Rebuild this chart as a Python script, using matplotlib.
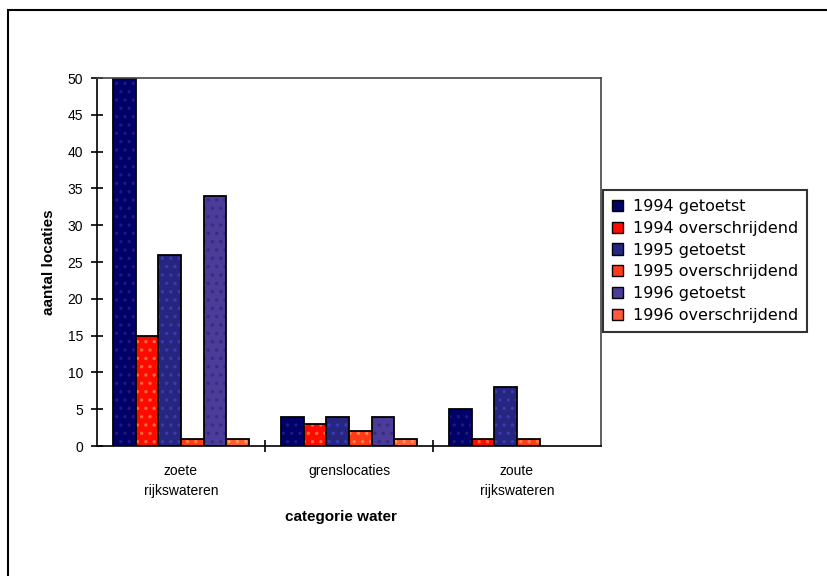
import matplotlib.pyplot as plt
from matplotlib.patches import Rectangle
import numpy as np

categories = ['zoete\nrijkswateren', 'grenslocaties', 'zoute\nrijkswateren']
series_names = ['1994 getoetst', '1994 overschrijdend',
                '1995 getoetst', '1995 overschrijdend',
                '1996 getoetst', '1996 overschrijdend']
getoetst_1994 = [50, 4, 5]
overschr_1994 = [15, 3, 1]
getoetst_1995 = [26, 4, 8]
overschr_1995 = [1, 2, 1]
getoetst_1996 = [34, 4, None]
overschr_1996 = [1, 1, None]
series = [getoetst_1994, overschr_1994, getoetst_1995,
          overschr_1995, getoetst_1996, overschr_1996]

colors = ['#000066', '#ff0a00', '#262680', '#ff3a1a', '#4a3c98', '#ff5a3a']
dots = ['#1a1a80', '#ff6a30', '#3a3ab0', '#ff8040', '#3a2a80', '#ff9a50']

plt.rcParams['font.family'] = ['Liberation Sans', 'DejaVu Sans']

fig = plt.figure(figsize=(8.27, 5.76), dpi=100)
# outer frame, runs off the right and bottom edge
fig.patches.append(Rectangle((8 / 827, -0.1), 1.2, 1.1 - 10 / 576, transform=fig.transFigure,
                             fill=False, edgecolor='black', linewidth=1.5))
ax = fig.add_axes([97 / 827, 1 - 446 / 576, (601 - 97) / 827, (446 - 78) / 576])

x = np.arange(len(categories))
w = 0.135
plt.rcParams['hatch.linewidth'] = 1.2
handles = []
for i, (vals, c, d) in enumerate(zip(series, colors, dots)):
    xs = [x[j] + (i - 2.5) * w for j in range(len(vals)) if vals[j] is not None]
    hs = [v for v in vals if v is not None]
    ax.bar(xs, hs, w, color=c, hatch='..', edgecolor=d, linewidth=0)
    ax.bar(xs, hs, w, fill=False, edgecolor='black', linewidth=1.3)
    handles.append(Rectangle((0, 0), 1, 1, facecolor=c, edgecolor='black', linewidth=1))

ax.set_xlim(-0.5, 2.5)
ax.set_ylim(0, 50)
ax.set_yticks(range(0, 51, 5))
ax.tick_params(axis='y', direction='inout', length=8, width=1.2, labelsize=10, pad=6)
ax.set_xticks([0.5, 1.5])
ax.set_xticklabels([])
ax.tick_params(axis='x', direction='inout', length=8, width=1.2)
for j, cat in enumerate(categories):
    ax.text(x[j], -2.4, cat, ha='center', va='top', fontsize=10, linespacing=1.6)
for s in ax.spines.values():
    s.set_linewidth(1.2)
ax.spines['top'].set_color('#444444')
ax.spines['right'].set_color('#444444')

ax.set_ylabel('aantal locaties', fontsize=11, fontweight='bold', labelpad=8)
fig.text((97 + 601) / 2 / 827 - 0.01, 1 - 517 / 576, 'categorie water',
         ha='center', va='center', fontsize=11, fontweight='bold')

leg = fig.legend(handles, series_names, loc='center left',
                 bbox_to_anchor=(603 / 827, 1 - 261 / 576), borderaxespad=0,
                 prop={'family': 'DejaVu Sans', 'size': 11.5},
                 frameon=True, fancybox=False, handlelength=0.7, handleheight=0.7,
                 handletextpad=0.6, labelspacing=0.42, borderpad=0.55)
leg.get_frame().set_edgecolor('black')
leg.get_frame().set_linewidth(1.5)

fig.savefig('out.png', dpi=100)
